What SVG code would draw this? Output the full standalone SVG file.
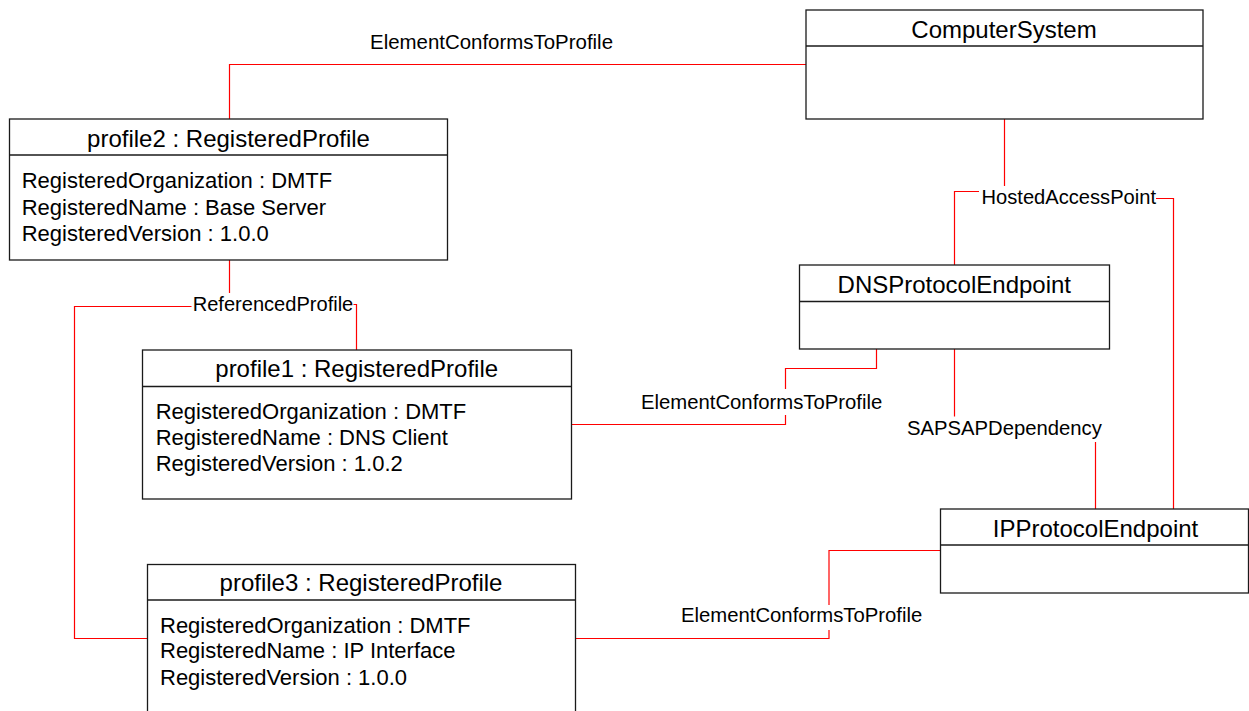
<svg xmlns="http://www.w3.org/2000/svg" width="1249" height="711" viewBox="0 0 1249 711">
<style>
.box{fill:#fff;stroke:#1a1a1a;stroke-width:1.3}
.sep{stroke:#1a1a1a;stroke-width:1.3}
.t{font-family:"Liberation Sans",Arial,sans-serif;font-size:24px;fill:#000;text-anchor:middle}
.a{font-family:"Liberation Sans",Arial,sans-serif;font-size:22px;fill:#000}
.l{font-family:"Liberation Sans",Arial,sans-serif;font-size:20px;fill:#000}
.c{fill:none;stroke:#ff0000;stroke-width:1.2}
</style>
<rect width="1249" height="711" fill="#fff"/>
<g id="connectors">
<path class="c" d="M806,64.5 H229.5 V119"/>
<text class="l" x="370" y="49" textLength="243" lengthAdjust="spacingAndGlyphs">ElementConformsToProfile</text>
<path class="c" d="M1004.5,119 V186 M979,191.5 H954.5 V265 M1156,198.5 H1173.5 V509"/>
<text class="l" x="981.5" y="204" textLength="174.5" lengthAdjust="spacingAndGlyphs">HostedAccessPoint</text>
<path class="c" d="M229.5,260 V293 M191.5,306.5 H74.5 V638.5 H147.5 M353.5,304.5 H356.5 V350"/>
<text class="l" x="192.7" y="310.7" textLength="160.6" lengthAdjust="spacingAndGlyphs">ReferencedProfile</text>
<path class="c" d="M876.5,349 V368.5 H785.5 V389 M785.5,415 V424.5 H571"/>
<text class="l" x="641" y="409" textLength="241.3" lengthAdjust="spacingAndGlyphs">ElementConformsToProfile</text>
<path class="c" d="M954.5,349 V416.5 M1095.5,442 V509"/>
<text class="l" x="907" y="435" textLength="194.8" lengthAdjust="spacingAndGlyphs">SAPSAPDependency</text>
<path class="c" d="M940.5,550.5 H829 V605 M829,630 V638.5 H575.5"/>
<text class="l" x="681" y="622" textLength="241.3" lengthAdjust="spacingAndGlyphs">ElementConformsToProfile</text>
</g>
<g id="ComputerSystem">
<rect class="box" x="806" y="10" width="397" height="109"/>
<line class="sep" x1="806" y1="46" x2="1203" y2="46"/>
<text class="t" x="1004" y="38">ComputerSystem</text>
</g>
<g id="profile2">
<rect class="box" x="9.5" y="119" width="438" height="141"/>
<line class="sep" x1="9.5" y1="155" x2="447.5" y2="155"/>
<text class="t" x="228.5" y="146.5">profile2 : RegisteredProfile</text>
<text class="a" x="21.7" y="188.3">RegisteredOrganization : DMTF</text>
<text class="a" x="21.7" y="215">RegisteredName : Base Server</text>
<text class="a" x="21.7" y="240.7">RegisteredVersion : 1.0.0</text>
</g>
<g id="DNSProtocolEndpoint">
<rect class="box" x="799.5" y="265" width="310" height="84"/>
<line class="sep" x1="799.5" y1="301.5" x2="1109.5" y2="301.5"/>
<text class="t" x="954.3" y="292.5">DNSProtocolEndpoint</text>
</g>
<g id="profile1">
<rect class="box" x="142.5" y="350" width="429" height="149"/>
<line class="sep" x1="142.5" y1="386.5" x2="571.5" y2="386.5"/>
<text class="t" x="356.7" y="377">profile1 : RegisteredProfile</text>
<text class="a" x="155.7" y="419">RegisteredOrganization : DMTF</text>
<text class="a" x="155.7" y="445">RegisteredName : DNS Client</text>
<text class="a" x="155.7" y="471.3">RegisteredVersion : 1.0.2</text>
</g>
<g id="IPProtocolEndpoint">
<rect class="box" x="940.5" y="509" width="308" height="84"/>
<line class="sep" x1="940.5" y1="545" x2="1248.5" y2="545"/>
<text class="t" x="1095.5" y="536.7">IPProtocolEndpoint</text>
</g>
<g id="profile3">
<rect class="box" x="147.5" y="564.5" width="428" height="160"/>
<line class="sep" x1="147.5" y1="600" x2="575.5" y2="600"/>
<text class="t" x="361" y="591">profile3 : RegisteredProfile</text>
<text class="a" x="160" y="632.7">RegisteredOrganization : DMTF</text>
<text class="a" x="160" y="658.3">RegisteredName : IP Interface</text>
<text class="a" x="160" y="685">RegisteredVersion : 1.0.0</text>
</g>
</svg>
